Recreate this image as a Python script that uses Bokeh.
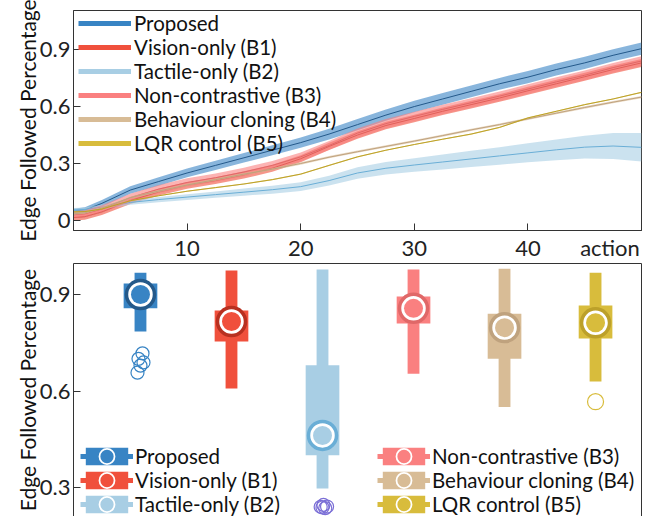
from bokeh.plotting import figure
from bokeh.layouts import column
from bokeh.models import (ColumnDataSource, Legend, LegendItem, FixedTicker,
                          LinearAxis, Range1d)
from bokeh.embed import file_html
from bokeh.resources import INLINE

FONT = "Lato"
NAN = float("nan")
NBSP = "\u00a0"

# ---------------- data ----------------
names = ["Proposed", "Vision-only (B1)", "Tactile-only (B2)",
         "Non-contrastive (B3)", "Behaviour cloning (B4)", "LQR control (B5)"]
colors = ["#3884c4", "#f0503c", "#a8cee4", "#fa8080", "#d8bc96", "#d8bc3c"]
darks = ["#24598a", "#b83020", "#6aaed6", "#e06868", "#bfa27e", "#bca02a"]

# top panel: mean edge-followed percentage vs action step
steps = [0, 1, 2.5, 5, 7.5, 10, 12.5, 15, 17.5, 20, 22.5, 25, 27.5, 30, 32.5, 35,
         37.5, 40, 42.5, 45, 47.5, 50]
mean_proposed = [0.05, 0.055, 0.09, 0.16, 0.205, 0.25, 0.29, 0.33, 0.37, 0.41, 0.455,
                 0.505, 0.555, 0.60, 0.64, 0.68, 0.72, 0.755, 0.795, 0.83, 0.87, 0.905]
mean_b1 = [0.015, 0.02, 0.045, 0.105, 0.15, 0.185, 0.21, 0.24, 0.275, 0.325, 0.39,
           0.45, 0.50, 0.537, 0.575, 0.61, 0.645, 0.683, 0.72, 0.757, 0.795, 0.83]
mean_b2 = [0.055, 0.058, 0.07, 0.095, 0.11, 0.123, 0.136, 0.149, 0.162, 0.178, 0.21,
           0.25, 0.275, 0.292, 0.308, 0.324, 0.34, 0.356, 0.372, 0.386, 0.392, 0.385]
mean_b3 = [0.03, 0.035, 0.06, 0.12, 0.165, 0.20, 0.225, 0.255, 0.29, 0.335, 0.395,
           0.46, 0.51, 0.548, 0.585, 0.62, 0.655, 0.692, 0.73, 0.765, 0.805, 0.84]
mean_b4 = [0.035, 0.04, 0.065, 0.12, 0.155, 0.187, 0.215, 0.244, 0.27, 0.3, 0.333,
           0.362, 0.39, 0.418, 0.447, 0.477, 0.505, 0.535, 0.565, 0.595, 0.623, 0.65]
mean_b5 = [0.045, 0.047, 0.06, 0.104, 0.13, 0.154, 0.173, 0.192, 0.215, 0.244, 0.29,
           0.335, 0.37, 0.4, 0.428, 0.455, 0.49, 0.54, 0.575, 0.61, 0.64, 0.675]

spread_proposed = [0.012, 0.015, 0.018, 0.02, 0.022, 0.023, 0.024, 0.025, 0.026, 0.027,
                   0.028, 0.03, 0.03, 0.03, 0.031, 0.031, 0.031, 0.032, 0.032, 0.032,
                   0.032, 0.032]
spread_b1 = [0.015, 0.016, 0.017, 0.018, 0.018, 0.018, 0.018, 0.019, 0.019, 0.019,
             0.019, 0.02, 0.02, 0.02, 0.02, 0.02, 0.02, 0.021, 0.021, 0.021, 0.021, 0.021]
spread_b2 = [0.01, 0.01, 0.012, 0.013, 0.014, 0.015, 0.017, 0.019, 0.021, 0.023, 0.026,
             0.03, 0.033, 0.036, 0.04, 0.043, 0.046, 0.05, 0.055, 0.06, 0.068, 0.075]
spread_b3 = [0.018, 0.019, 0.02, 0.021, 0.022, 0.022, 0.022, 0.023, 0.023, 0.023, 0.023,
             0.024, 0.024, 0.024, 0.024, 0.024, 0.024, 0.025, 0.025, 0.025, 0.025, 0.025]
spread_b4 = [0.005, 0.005, 0.005, 0.006, 0.006, 0.006, 0.006, 0.006, 0.006, 0.006,
             0.006, 0.006, 0.006, 0.006, 0.006, 0.006, 0.006, 0.006, 0.006, 0.006,
             0.006, 0.006]
spread_b5 = [0.003] * 22

means = [mean_proposed, mean_b1, mean_b2, mean_b3, mean_b4, mean_b5]
spreads = [spread_proposed, spread_b1, spread_b2, spread_b3, spread_b4, spread_b5]

# bottom panel: final edge-followed percentage distribution per method
positions = [1, 2, 3, 4, 5, 6]
whisker_low = [0.785, 0.608, 0.297, 0.654, 0.550, 0.630]
whisker_high = [0.968, 0.975, 0.978, 0.978, 0.980, 0.968]
q1 = [0.857, 0.754, 0.400, 0.810, 0.700, 0.763]
q3 = [0.934, 0.850, 0.680, 0.894, 0.840, 0.866]
medians = [0.900, 0.816, 0.462, 0.857, 0.797, 0.812]

outlier_group = [0, 0, 0, 0, 0, 2, 2, 2, 2, 2, 5]
outlier_dx = [0.022, -0.022, 0.033, 0.0, -0.033, -0.02, 0.01, 0.03, 0.05, 0.0, 0.0]
outlier_vals = [0.717, 0.700, 0.689, 0.679, 0.657, 0.240, 0.246, 0.236, 0.241, 0.238, 0.567]
outlier_colors = {0: "#3884c4", 2: "#7b6fd6", 5: "#d8bc3c"}
outlier_sizes = {0: 13, 2: 13, 5: 16}

y_ticks_top = [0, 0.3, 0.6, 0.9]
x_ticks_top = [10, 20, 30, 40, 50]
y_ticks_bottom = [0.3, 0.6, 0.9]
x_axis_name = "action"
y_axis_name = "Edge Followed Percentage"


def style_axis(ax):
    ax.major_tick_in = 7
    ax.major_tick_out = 0
    ax.minor_tick_line_color = None
    ax.axis_line_color = "#333333"
    ax.major_tick_line_color = "#333333"
    ax.major_label_text_font = FONT
    ax.major_label_text_font_size = "22px"
    ax.major_label_text_color = "#222222"
    ax.major_label_standoff = 3
    ax.axis_label_text_font = FONT
    ax.axis_label_text_font_size = "21px"
    ax.axis_label_text_font_style = "normal"
    ax.axis_label_text_color = "#111111"
    ax.axis_label_standoff = -3


# ---------------- top figure ----------------
p1 = figure(width=645, height=263, x_range=Range1d(0, 50), y_range=Range1d(-0.053, 1.106),
            output_backend="svg", toolbar_location=None,
            min_border_left=73, min_border_right=4, min_border_top=10, min_border_bottom=30)
p1.grid.visible = False
p1.outline_line_color = "#333333"
for ax in p1.axis:
    style_axis(ax)
p1.xaxis.ticker = FixedTicker(ticks=x_ticks_top)
# the last tick sits on the right border; its label names the axis
p1.xaxis.major_label_overrides = {50: x_axis_name + NBSP}
p1.yaxis.ticker = FixedTicker(ticks=y_ticks_top)
p1.yaxis.major_label_overrides = {0: "0"}
p1.yaxis.axis_label = y_axis_name

top_items = []
for i in range(6):
    lo = [m - s for m, s in zip(means[i], spreads[i])]
    hi = [m + s for m, s in zip(means[i], spreads[i])]
    src = ColumnDataSource(dict(x=steps, lo=lo, hi=hi, m=means[i]))
    p1.varea(x="x", y1="lo", y2="hi", source=src, fill_color=colors[i], fill_alpha=0.6)
    p1.line(x="x", y="m", source=src, line_color=darks[i], line_width=1)
    # legend proxy (NaN point: draws nothing in the plot)
    proxy = p1.line(x=[NAN], y=[NAN], line_color=colors[i], line_width=5)
    top_items.append(LegendItem(label=names[i], renderers=[proxy]))

leg1 = Legend(items=top_items, location=(5, 75), background_fill_alpha=0,
              border_line_color=None, label_text_font=FONT, label_text_font_size="20.5px",
              label_text_color="#111111", glyph_width=53, glyph_height=20, label_height=20,
              label_standoff=3, spacing=0, padding=0, margin=0)
p1.add_layout(leg1)

# ---------------- bottom figure ----------------
p2 = figure(width=645, height=253, x_range=Range1d(0.264, 6.505), y_range=Range1d(0.21, 0.9964),
            output_backend="svg", toolbar_location=None, x_axis_location=None,
            min_border_left=73, min_border_right=4, min_border_top=0, min_border_bottom=0)
p2.grid.visible = False
p2.outline_line_color = None
for ax in p2.axis:
    style_axis(ax)
p2.yaxis.ticker = FixedTicker(ticks=y_ticks_bottom)
p2.yaxis.axis_label = y_axis_name

for loc in ("above", "right"):
    ax = LinearAxis(ticker=FixedTicker(ticks=[]), major_tick_line_color=None,
                    minor_tick_line_color=None, major_tick_in=0, major_tick_out=0,
                    major_label_text_font_size="0px", major_label_standoff=0,
                    axis_line_color="#333333")
    p2.add_layout(ax, loc)

box_src = ColumnDataSource(dict(x=positions, wl=whisker_low, wh=whisker_high, q1=q1, q3=q3,
                                med=medians, c=colors, d=darks))
p2.vbar(x="x", bottom="wl", top="wh", width=0.13, fill_color="c", line_color=None, source=box_src)
p2.vbar(x="x", bottom="q1", top="q3", width=0.37, fill_color="c", line_color=None, source=box_src)
p2.scatter(x="x", y="med", size=28, marker="circle", fill_color="white", line_color="d",
           line_width=3.5, source=box_src)
p2.scatter(x="x", y="med", size=19, marker="circle", fill_color="c", line_color=None,
           source=box_src)

out_src = ColumnDataSource(dict(
    x=[positions[g] + dx for g, dx in zip(outlier_group, outlier_dx)],
    y=outlier_vals,
    c=[outlier_colors[g] for g in outlier_group],
    s=[outlier_sizes[g] for g in outlier_group]))
p2.scatter(x="x", y="y", size="s", marker="circle", fill_color=None, line_color="c",
           line_width=1.2, source=out_src)

bottom_items = []
for i in range(6):
    rl = p2.line(x=[NAN], y=[NAN], line_color=colors[i], line_width=5)
    rb = p2.rect(x=[NAN], y=[NAN], width=1, height=1, fill_color=colors[i], line_color=None)
    rw = p2.scatter(x=[NAN], y=[NAN], marker="circle", fill_color="white",
                    line_color="white", line_width=8)
    rd = p2.scatter(x=[NAN], y=[NAN], marker="circle", fill_color=colors[i],
                    line_color=colors[i], line_width=4.5)
    bottom_items.append(LegendItem(label=names[i], renderers=[rl, rb, rw, rd]))

common = dict(background_fill_alpha=0, border_line_color=None, label_text_font=FONT,
              label_text_font_size="20.5px", label_text_color="#111111", glyph_width=53,
              glyph_height=22, label_height=20, label_standoff=2, spacing=0, padding=0,
              margin=0)
leg_a = Legend(items=bottom_items[:3], location=(7, 0), **common)
leg_b = Legend(items=bottom_items[3:], location=(304, 0), **common)
p2.add_layout(leg_a)
p2.add_layout(leg_b)

layout = column(p1, p2, spacing=0)
open("out.html", "w").write(file_html(layout, INLINE))
